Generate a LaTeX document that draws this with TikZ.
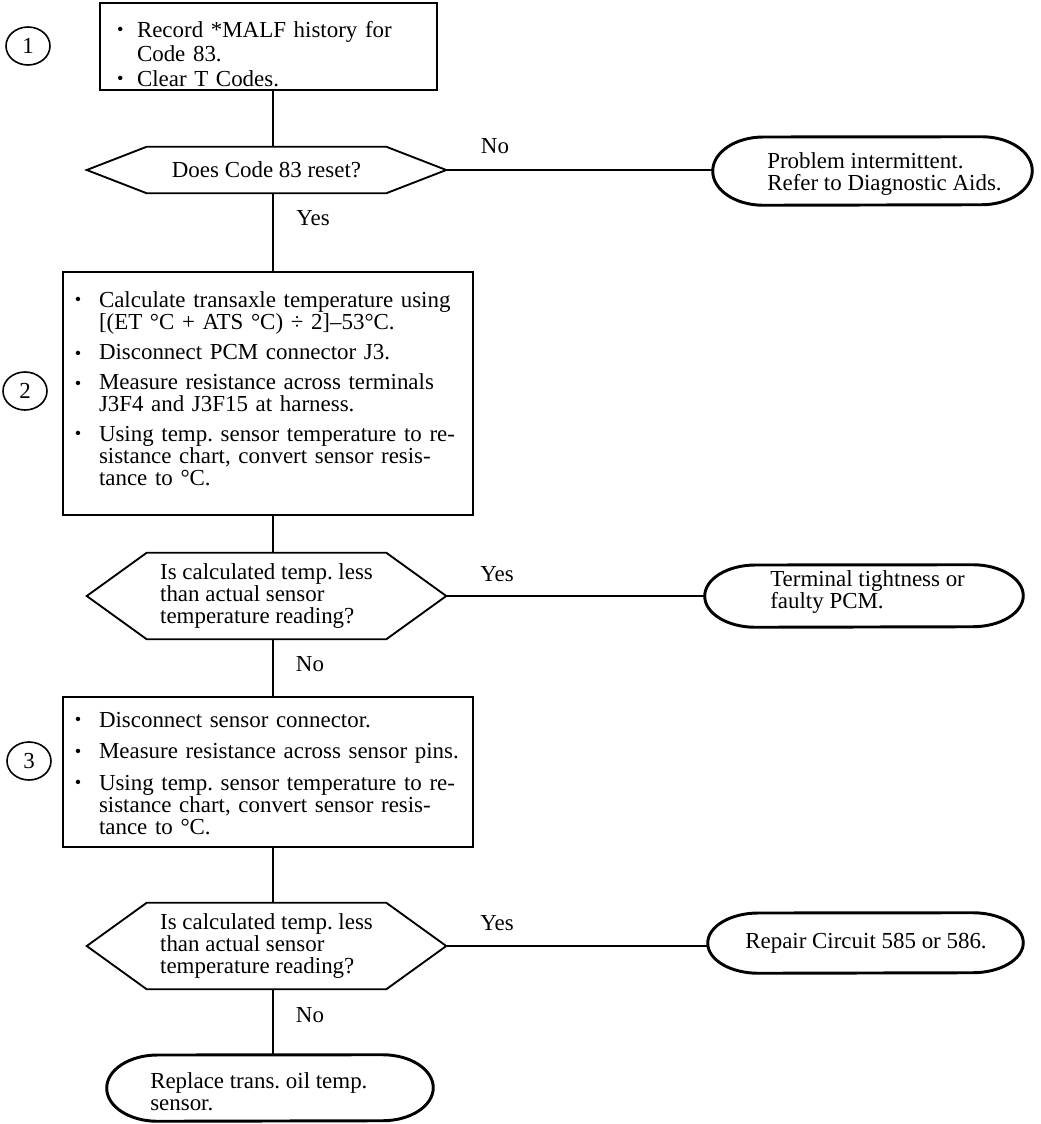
\documentclass[tikz,border=0pt]{standalone}
\usepackage{fontspec}
\setmainfont{Liberation Serif}
\usetikzlibrary{shapes.geometric,calc}
\frenchspacing
\newcommand\myitem[2][18pt]{\hangindent=#1\hangafter=1\noindent\makebox[#1][l]{\raisebox{0.18ex}{\scalebox{0.8}{\textbullet}}}#2\par}
\newcommand\mylowitem[2][18pt]{\hangindent=#1\hangafter=1\noindent\makebox[#1][l]{\raisebox{-0.05ex}{\scalebox{0.8}{\textbullet}}}#2\par}
\newcommand\itemgap[1][6pt]{\vskip#1}
\newcommand\termshape[3]{% name, rx, ry
  \draw[termline] (#1.west) arc[start angle=180,end angle=90,x radius=#2,y radius=#3]
    -- ([xshift=-#2]#1.north east) arc[start angle=90,end angle=0,x radius=#2,y radius=#3]
    arc[start angle=0,end angle=-90,x radius=#2,y radius=#3]
    -- ([xshift=#2]#1.south west) arc[start angle=270,end angle=180,x radius=#2,y radius=#3] -- cycle;}
\newcommand\hexshape[2]{% name, inset
  \draw[hexline] (#1.west) -- ([xshift=#2]#1.north west) -- ([xshift=-#2]#1.north east) -- (#1.east)
    -- ([xshift=-#2]#1.south east) -- ([xshift=#2]#1.south west) -- cycle;}
\begin{document}
\begin{tikzpicture}[x=0.75pt,y=-0.75pt,
  every node/.style={font=\fontsize{17.2pt}{16.5pt}\selectfont},
  procbox/.style={draw,line width=1.4pt,rectangle,inner sep=0pt},
  boxtxt/.style={rectangle,inner ysep=0pt,align=left},
  decbox/.style={rectangle,inner sep=0pt,minimum width=269.25pt,align=left},
  hexline/.style={line width=1.4pt,line join=miter},
  termbox/.style={rectangle,inner sep=0pt},
  termline/.style={line width=2.2pt},
  numcirc/.style={draw,ellipse,line width=1.2pt,minimum width=33pt,minimum height=28.5pt,inner sep=0pt},
  txt/.style={inner sep=0pt,align=left,anchor=west},
  lbl/.style={inner sep=0pt},
  conn/.style={line width=1.4pt}]
\useasboundingbox (0,0) rectangle (1040,1124);
\coordinate (spine) at (273,0);

% step numbers
\node[numcirc] (c1) at (28,46) {1};
\node[numcirc] (c2) at (25,391) {2};
\node[numcirc] (c3) at (29,761) {3};

% box 1
\node[procbox,minimum width=252.75pt,minimum height=65.25pt] (b1) at (268.5,46.5) {};
\node[boxtxt,inner xsep=12.75pt,text width=227.25pt,
      font=\fontsize{17.2pt}{18.2pt}\selectfont] (b1txt) at (268.5,54)
 {\myitem[15pt]{Record *MALF history for\newline Code 83.}\myitem[15pt]{Clear T Codes.}};

% decision 1
\node[decbox,minimum height=34.5pt] (d1) at (266.5,170) {Does Code 83 reset?};
\hexshape{d1}{45pt}

% terminal 1
\node[termbox,minimum width=239.25pt,minimum height=51pt] (t1) at (872.5,171) {};
\termshape{t1}{38pt}{25.5pt}
\node[txt] (t1txt) at (767,174) {Problem intermittent.\\Refer to Diagnostic Aids.};

% box 2
\node[procbox,minimum width=307.5pt,minimum height=182.25pt] (b2) at (268,393.5) {};
\node[boxtxt,inner xsep=4pt,text width=299.5pt] (b2txt) at (268,388.5)
 {\leftskip=5pt
  \myitem{Calculate transaxle temperature using\newline [(ET °C + ATS °C) ÷ 2]–53°C.}\itemgap
  \mylowitem{Disconnect PCM connector J3.}\itemgap
  \mylowitem{Measure resistance across terminals\newline J3F4 and J3F15 at harness.}\itemgap
  \myitem{Using temp. sensor temperature to re-\newline sistance chart, convert sensor resis-\newline tance to °C.}};

% decision 2
\node[decbox,minimum height=64.5pt] (d2) at (266.5,596) {Is calculated temp. less\\than actual sensor\\temperature reading?};
\hexshape{d2}{45pt}

% terminal 2
\node[termbox,minimum width=238.5pt,minimum height=46.5pt] (t2) at (864,596) {};
\termshape{t2}{38pt}{23.25pt}
\node[txt] (t2txt) at (770,592) {Terminal tightness or\\faulty PCM.};

% box 3
\node[procbox,minimum width=307.5pt,minimum height=112.5pt] (b3) at (268,772) {};
\node[boxtxt,inner xsep=4pt,text width=299.5pt] (b3txt) at (268,773.5)
 {\leftskip=5pt
  \myitem{Disconnect sensor connector.}\itemgap[7pt]
  \myitem{Measure resistance across sensor pins.}\itemgap[7pt]
  \myitem{Using temp. sensor temperature to re-\newline sistance chart, convert sensor resis-\newline tance to °C.}};

% decision 3
\node[decbox,minimum height=64.5pt] (d3) at (266.5,946) {Is calculated temp. less\\than actual sensor\\temperature reading?};
\hexshape{d3}{45pt}

% terminal 3
\node[termbox,minimum width=236.25pt,minimum height=45pt] (t3) at (865.5,943) {};
\termshape{t3}{38pt}{22.5pt}
\node[txt,anchor=center] (t3txt) at (866,943) {Repair Circuit 585 or 586.};

% terminal 4
\node[termbox,minimum width=244.5pt,minimum height=49.5pt] (t4) at (270,1088) {};
\termshape{t4}{38pt}{24.75pt}
\node[txt] (t4txt) at (150,1092) {Replace trans. oil temp.\\sensor.};

% connectors
\draw[conn] (b1.south -| spine) -- (d1.north -| spine);
\draw[conn] (d1.south -| spine) -- (b2.north -| spine);
\draw[conn] (b2.south -| spine) -- (d2.north -| spine);
\draw[conn] (d2.south -| spine) -- (b3.north -| spine);
\draw[conn] (b3.south -| spine) -- (d3.north -| spine);
\draw[conn] (d3.south -| spine) -- (t4.north -| spine);
\draw[conn] (d1.east) -- (d1.east -| t1.west);
\draw[conn] (d2.east) -- (d2.east -| t2.west);
\draw[conn] (d3.east) -- (d3.east -| t3.west);

% labels
\node[lbl] (l1) at (495,146) {No};
\node[lbl] (l2) at (313,218) {Yes};
\node[lbl] (l3) at (497,574) {Yes};
\node[lbl] (l4) at (310,664) {No};
\node[lbl] (l5) at (497,923) {Yes};
\node[lbl] (l6) at (310,1015) {No};
\end{tikzpicture}
\end{document}
